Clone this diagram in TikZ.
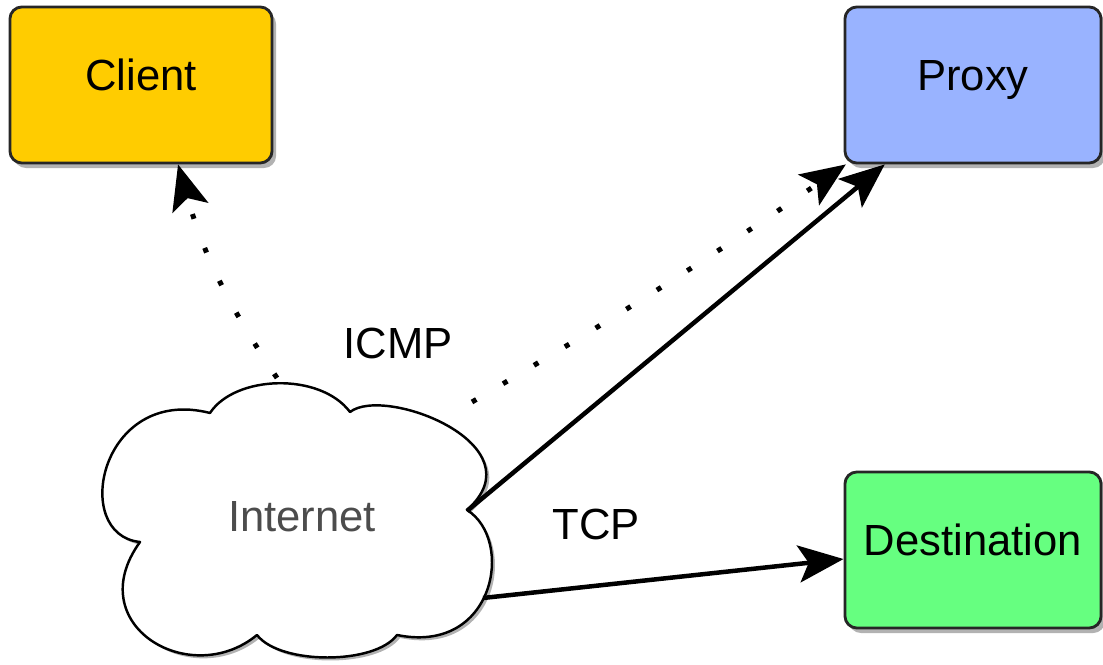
\documentclass[tikz,border=0pt]{standalone}
\usepackage{fontspec}
\setmainfont{Liberation Sans}
\usetikzlibrary{arrows.meta,shadows}
\definecolor{clientyel}{HTML}{FFCC00}
\definecolor{proxyblue}{HTML}{99B3FF}
\definecolor{destgreen}{HTML}{66FF80}
\begin{document}
\begin{tikzpicture}[x=0.01cm, y=-0.01cm, line join=round,
    box/.style={draw=black!85, line width=0.8pt, rounded corners=0.12cm,
      minimum height=1.56cm, text height=0.31cm, text depth=0.2cm,
      font=\fontsize{12.4}{14}\selectfont,
      drop shadow={shadow xshift=0.04cm, shadow yshift=-0.05cm, fill=black!30, opacity=1}},
    lbl/.style={font=\fontsize{12.4}{14}\selectfont, inner sep=0pt},
    probe/.style={line width=0.05cm, dash pattern=on 0.05cm off 0.31cm,
      -{Stealth[length=0.45cm, width=0.37cm, inset=0.1cm]}},
    conn/.style={line width=0.045cm,
      -{Stealth[length=0.45cm, width=0.37cm, inset=0.1cm]}}]
        \useasboundingbox (0,0) rectangle (1103,665);
        \node[box, fill=clientyel, minimum width=2.62cm] (client) at (141,85) {Client};
        \node[box, fill=proxyblue, minimum width=2.56cm] (proxy) at (973,85) {Proxy};
        \node[box, fill=destgreen, minimum width=2.56cm] (dest) at (973,550) {Destination};
        \draw[line width=0.7pt, fill=white,
              drop shadow={shadow xshift=0.03cm, shadow yshift=-0.03cm, fill=black!30, opacity=1}]
            (210,413) .. controls (235,375) and (320,372) .. (350,412)
            .. controls (385,385) and (540,445) .. (467,510)
            .. controls (515,540) and (495,655) .. (397,635)
            .. controls (375,665) and (280,665) .. (257,635)
            .. controls (190,690) and (80,625) .. (140,542)
            .. controls (70,535) and (100,385) .. cycle;
        \node[lbl, text=black!70] (inet) at (302,517) {Internet};
        \coordinate (ctop) at (277,378);
        \coordinate (cne) at (472,402);
        \coordinate (cnotch) at (467,511);
        \coordinate (cse) at (483,598);
        \draw[probe] (ctop) to[bend left=9] (client.-65);
        \draw[probe] (cne) to[bend right=2] (proxy.212);
        \draw[conn] (cnotch) -- (proxy.222);
        \draw[conn] (cse) -- (dest.184);
        \node[lbl] (licmp) at (398,344) {ICMP};
        \node[lbl] (ltcp) at (596,525) {TCP};
\end{tikzpicture}
\end{document}
